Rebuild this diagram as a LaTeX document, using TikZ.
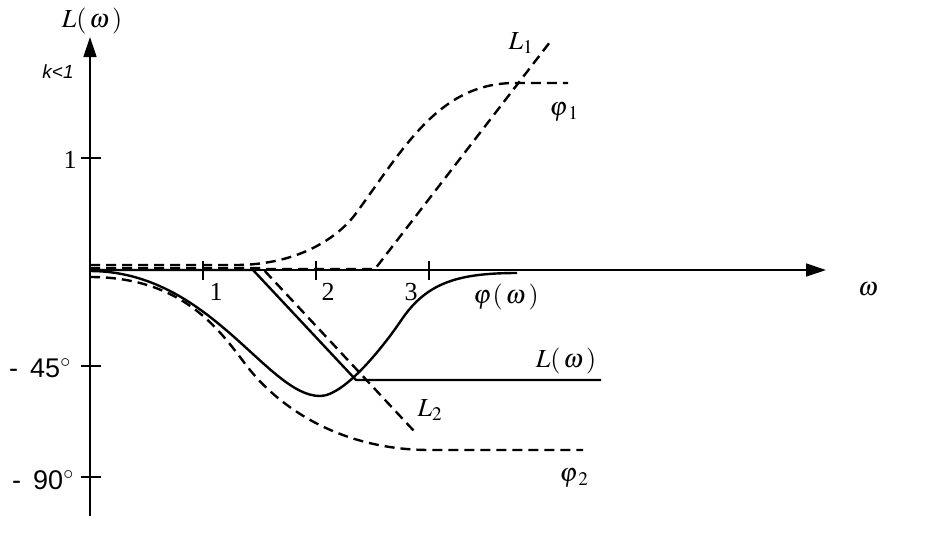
\documentclass[tikz,border=0pt]{standalone}
\usepackage{mathptmx}
\usepackage{fontspec}
\setmainfont{Liberation Serif}
\newfontfamily\ksans{Liberation Sans}
\usetikzlibrary{arrows.meta}
\usetikzlibrary{positioning}
\tikzstyle{axis} = [line width=1.4pt,-{Triangle[length=20pt,width=13pt]}]
\tikzstyle{tick} = [line width=1.2pt]
\tikzstyle{curve} = [line width=2.4pt]
\tikzstyle{dcurve} = [line width=2.4pt, dash pattern=on 10pt off 6pt]
\tikzstyle{lbl} = [inner sep=0pt, font=\fontsize{26}{30}\selectfont]
\tikzstyle{deg} = [inner sep=0pt, font=\ksans\fontsize{27}{30}\selectfont]

\begin{document}
\begin{tikzpicture}[x=1pt,y=-1pt]
\useasboundingbox (0,0) rectangle (928,539);

% axes
\coordinate (O) at (90,270);
\coordinate (ytop) at (90,37);
\coordinate (ybot) at (90,516);
\coordinate (xend) at (826,270);
\draw [axis] (ybot) -- (ytop);
\draw [axis] (O) -- (xend);

\node (Ly) [lbl] at (92,21) {$L(\,\omega\,)$};
\node (k) [inner sep=0pt, font=\ksans\itshape\fontsize{19}{22}\selectfont] at (58,72) {k<1};
\node (w) [lbl] at (868,289) {$\omega$};

% ticks on the vertical axis
\draw [tick] (81,158) -- (101,158);
\draw [tick] (81,366) -- (101,366);
\draw [tick] (81,477) -- (101,477);
\node (t1) [lbl] at (70,160) {1};
\node (t45) [deg] at (40,368) {-\, 45$^\circ$};
\node (t90) [deg] at (43,480) {-\, 90$^\circ$};

% ticks on the horizontal axis
\foreach \x in {203, 316, 429} {
    \draw [tick] (\x,261) -- (\x,280);
}
\node (w1) [lbl] at (216,292) {1};
\node (w2) [lbl] at (328,292) {2};
\node (w3) [lbl] at (411,292) {3};

% phi_1
\draw [dcurve] (90,265) -- (235,265) .. controls (300,265) and (340,236) .. (357,212)
    .. controls (405,146) and (440,83) .. (515,83) -- (568,83);
\node (phi1) [lbl] at (564,112) {$\varphi_{\kern3pt 1}$};

% L_1
\draw [dcurve] (90,269) -- (375,269) -- (550,42);
\node (L1) [lbl] at (521,43) {$L_1$};

% L_2
\draw [dcurve] (90,268) -- (262,268) -- (414,431);
\node (L2) [lbl] at (430,410) {$L_2$};

% L(omega)
\draw [curve] (90,270) -- (253,270) -- (356,380) -- (601,380);
\node (Lw) [lbl] at (566,361) {$L(\,\omega\,)$};

% phi(omega)
\draw [curve] (90,271) .. controls (210,271) and (267,396) .. (320,396)
    .. controls (345,396) and (385,344) .. (400,322)
    .. controls (425,284) and (455,273) .. (517,273);
\node (phiw) [lbl] at (506,297) {$\varphi\kern1.5pt(\,\omega\,)$};

% phi_2
\draw [dcurve] (90,277) .. controls (190,277) and (225,339) .. (250,370)
    .. controls (280,407) and (340,450) .. (430,450) -- (583,450);
\node (phi2) [lbl] at (574,478) {$\varphi_{\kern3pt 2}$};
\end{tikzpicture}
\end{document}
